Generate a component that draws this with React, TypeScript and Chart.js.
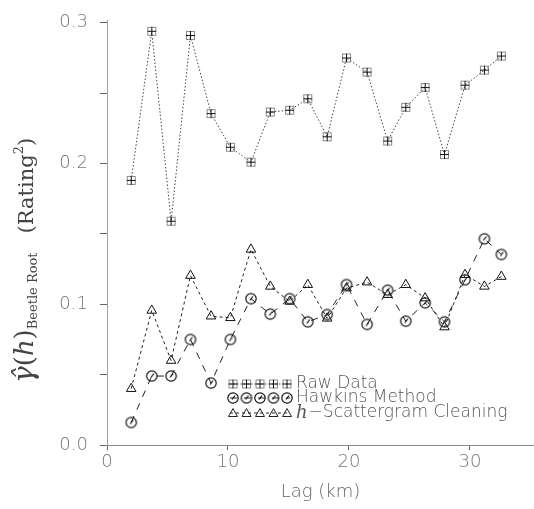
import React, { useEffect, useRef } from "react";
import { Chart, registerables } from "chart.js";

Chart.register(...registerables);

// ---- data ----
const LAGS = [2.0, 3.7, 5.3, 6.9, 8.6, 10.2, 11.9, 13.5, 15.1, 16.6, 18.2, 19.8, 21.5, 23.2, 24.7, 26.3, 27.9, 29.6, 31.2, 32.6];
const RAW = [0.188, 0.294, 0.159, 0.291, 0.2355, 0.2116, 0.201, 0.2366, 0.2379, 0.246, 0.219, 0.275, 0.265, 0.216, 0.24, 0.254, 0.2064, 0.2557, 0.2664, 0.2764];
const HAWKINS = [0.016, 0.049, 0.049, 0.075, 0.044, 0.075, 0.104, 0.093, 0.104, 0.0875, 0.0927, 0.114, 0.0857, 0.11, 0.088, 0.101, 0.0875, 0.1174, 0.1465, 0.1354];
const HSCAT = [0.04, 0.0956, 0.06, 0.1204, 0.0915, 0.0904, 0.139, 0.1127, 0.102, 0.1139, 0.09, 0.1115, 0.1157, 0.1068, 0.1139, 0.1044, 0.0838, 0.121, 0.1127, 0.1197];
const SERIES_NAMES = ["Raw Data", "Hawkins Method", "h-Scattergram Cleaning"];
const X_TICKS = [0, 10, 20, 30];
const Y_TICKS = [0, 0.05, 0.1, 0.15, 0.2, 0.25, 0.3];
const Y_MAJOR = [0, 0.1, 0.2, 0.3];
const X_TITLE = "Lag (km)";

const TICK_FONT = { family: "'DejaVu Sans', sans-serif", size: 18, weight: "200" as any };
const TICK_COLOR = "#777";

function makeSquarePlus(): HTMLCanvasElement {
  const c = document.createElement("canvas");
  c.width = 13; c.height = 13;
  const g = c.getContext("2d")!;
  g.strokeStyle = "#8a8a8a"; g.lineWidth = 1;
  g.strokeRect(2.5, 2.5, 8, 8);
  g.strokeStyle = "#111";
  g.beginPath();
  g.moveTo(6.5, 2); g.lineTo(6.5, 11);
  g.moveTo(2, 6.5); g.lineTo(11, 6.5);
  g.stroke();
  return c;
}
function makeCircleSlash(): HTMLCanvasElement {
  const c = document.createElement("canvas");
  c.width = 14; c.height = 14;
  const g = c.getContext("2d")!;
  g.strokeStyle = "#111"; g.lineWidth = 1.2;
  g.beginPath(); g.arc(7, 7, 5.2, 0, Math.PI * 2); g.stroke();
  g.beginPath(); g.moveTo(9, 4.5); g.lineTo(6, 8.5); g.stroke();
  return c;
}

const yTitlePlugin = {
  id: "yTitle",
  afterDraw(chart: any) {
    const ctx = chart.ctx as CanvasRenderingContext2D;
    ctx.save();
    ctx.translate(33, 383);
    ctx.rotate(-Math.PI / 2);
    ctx.fillStyle = "#444";
    ctx.textBaseline = "alphabetic";
    ctx.textAlign = "left";
    let x = 0;
    const put = (t: string, font: string, dy = 0) => {
      ctx.font = font;
      ctx.fillText(t, x, dy);
      x += ctx.measureText(t).width;
    };
    put("γ\u0302", "italic 28px 'DejaVu Serif', serif");
    put("(", "26px 'DejaVu Serif', serif");
    put("h", "italic 26px 'DejaVu Serif', serif");
    put(")", "26px 'DejaVu Serif', serif");
    put("Beetle Root", "13px 'DejaVu Serif', serif", 4);
    x += 19;
    put("(Rating", "21px 'DejaVu Serif', serif");
    put("2", "13px 'DejaVu Serif', serif", -10);
    put(")", "21px 'DejaVu Serif', serif");
    ctx.restore();
  },
};

const legendPlugin = {
  id: "sampleLegend",
  afterDraw(chart: any) {
    const ctx = chart.ctx as CanvasRenderingContext2D;
    const rows = [384, 398, 413];
    const x0 = 230, x1 = 290, n = 5;
    chart.data.datasets.forEach((ds: any, i: number) => {
      const y = rows[i];
      ctx.save();
      ctx.strokeStyle = ds.borderColor;
      ctx.lineWidth = 1;
      ctx.setLineDash(ds.borderDash || []);
      ctx.beginPath(); ctx.moveTo(x0, y); ctx.lineTo(x1, y); ctx.stroke();
      ctx.setLineDash([]);
      for (let k = 0; k < n; k++) {
        const px = x0 + 3 + (k * (x1 - x0 - 6)) / (n - 1);
        const ps = ds.pointStyle;
        if (ps instanceof HTMLCanvasElement) {
          ctx.drawImage(ps, px - ps.width / 2, y - ps.height / 2);
        } else {
          ctx.strokeStyle = "#222";
          ctx.beginPath();
          ctx.moveTo(px - 4.5, y + 3.5); ctx.lineTo(px + 4.5, y + 3.5); ctx.lineTo(px, y - 4.5); ctx.closePath();
          ctx.stroke();
        }
      }
      ctx.fillStyle = "#555";
      ctx.textBaseline = "middle";
      ctx.textAlign = "left";
      const name = SERIES_NAMES[i];
      if (name.startsWith("h-")) {
        ctx.font = "italic 18px 'DejaVu Serif', serif";
        ctx.fillText("h", 296, y);
        const w = ctx.measureText("h").width;
        ctx.font = "200 17px 'DejaVu Sans', sans-serif";
        ctx.fillText("\u2212" + name.slice(2), 296 + w + 1, y);
      } else {
        ctx.font = "200 17px 'DejaVu Sans', sans-serif";
        ctx.fillText(name, 296, y);
      }
      ctx.restore();
    });
  },
};

export default function App() {
  const ref = useRef<HTMLCanvasElement | null>(null);
  useEffect(() => {
    if (!ref.current) return;
    const sq = makeSquarePlus();
    const ci = makeCircleSlash();
    const chart = new Chart(ref.current, {
      type: "line",
      data: {
        datasets: [
          {
            label: SERIES_NAMES[0],
            data: LAGS.map((x, i) => ({ x, y: RAW[i] })),
            borderColor: "#444",
            borderWidth: 1,
            borderDash: [1.5, 2],
            pointStyle: sq as any,
            pointRadius: 6,
            fill: false,
            tension: 0,
          },
          {
            label: SERIES_NAMES[1],
            data: LAGS.map((x, i) => ({ x, y: HAWKINS[i] })),
            borderColor: "#222",
            borderWidth: 1,
            borderDash: [7, 7],
            pointStyle: ci as any,
            pointRadius: 6,
            fill: false,
            tension: 0,
          },
          {
            label: SERIES_NAMES[2],
            data: LAGS.map((x, i) => ({ x, y: HSCAT[i] })),
            borderColor: "#222",
            borderWidth: 1,
            borderDash: [3, 3],
            pointStyle: "triangle",
            pointRadius: 5.5,
            pointBorderColor: "#111",
            pointBackgroundColor: "rgba(0,0,0,0)",
            pointBorderWidth: 1,
            fill: false,
            tension: 0,
          },
        ],
      },
      options: {
        animation: false,
        responsive: false,
        layout: { autoPadding: false, padding: { top: 20, right: 0, left: 0, bottom: 0 } },
        plugins: { legend: { display: false }, tooltip: { enabled: false } },
        scales: {
          x: {
            type: "linear",
            min: 0,
            max: 35.3,
            afterBuildTicks: (s: any) => { s.ticks = X_TICKS.map((v) => ({ value: v })); },
            afterFit: (s: any) => { s.height = 64; s.paddingLeft = 0; s.paddingRight = 0; },
            ticks: { font: TICK_FONT, color: TICK_COLOR, padding: 2, maxRotation: 0 },
            grid: { drawOnChartArea: false, tickLength: 5, color: "#666" },
            border: { color: "#8a8a8a", width: 1 },
            title: {
              display: true,
              text: X_TITLE,
              font: { family: "'DejaVu Sans', sans-serif", size: 18, weight: "200" as any },
              color: "#666",
              padding: { top: 0, bottom: 6 },
            },
          },
          y: {
            type: "linear",
            min: 0,
            max: 0.302,
            afterBuildTicks: (s: any) => { s.ticks = Y_TICKS.map((v) => ({ value: v })); },
            afterFit: (s: any) => { s.width = 107; s.paddingTop = 0; s.paddingBottom = 0; },
            ticks: {
              font: TICK_FONT,
              color: TICK_COLOR,
              padding: 12,
              callback: (v: any) => {
                const n = Number(v);
                return Y_MAJOR.some((m) => Math.abs(m - n) < 1e-9) ? n.toFixed(1) : "";
              },
            },
            grid: { drawOnChartArea: false, tickLength: 7, color: "#666" },
            border: { color: "#a0a0a0", width: 1 },
          },
        },
      },
      plugins: [yTitlePlugin, legendPlugin],
    });
    return () => chart.destroy();
  }, []);
  return (
    <div style={{ position: "fixed", left: 0, top: 0, width: 534, height: 509, background: "#fff" }}>
      <canvas ref={ref} width={534} height={509} style={{ display: "block" }} />
    </div>
  );
}
